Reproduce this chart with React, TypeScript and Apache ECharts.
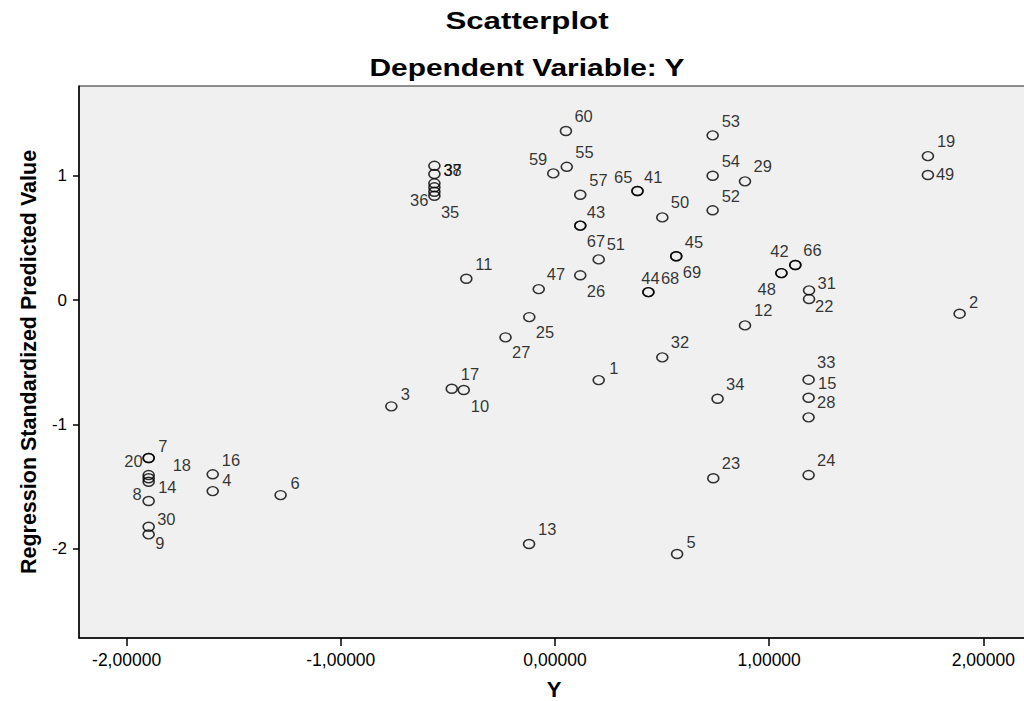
import React, { useEffect, useRef } from 'react';
import * as echarts from 'echarts';

// Case numbers of the points
const caseIds = [
  1, 2, 3, 4, 5, 6, 7, 8, 9, 10,
  11, 12, 13, 14, 15, 16, 17, 18, 19, 20,
  21, 22, 23, 24, 25, 26, 27, 28, 29, 30,
  31, 32, 33, 34, 35, 36, 37, 38, 39, 40,
  41, 42, 43, 44, 45, 46, 47, 48, 49, 50,
  51, 52, 53, 54, 55, 57, 59, 60, 65, 66,
  67, 68, 69,
];

// X axis: Y (observed)
const observedY = [
  0.204, 1.889, -0.764, -1.598, 0.570, -1.281, -1.897, -1.897, -1.897, -0.426,
  -0.414, 0.887, -0.121, -1.897, 1.184, -1.598, -0.482, -1.897, 1.741, -1.897,
  -1.897, 1.186, 0.739, 1.184, -0.120, 0.118, -0.231, 1.184, 0.887, -1.897,
  1.186, 0.501, 1.184, 0.759, -0.563, -0.563, -0.563, -0.563, -0.563, -0.563,
  0.385, 1.057, 0.118, 0.436, 0.566, 1.122, -0.076, 1.057, 1.741, 0.501,
  0.204, 0.736, 0.736, 0.736, 0.055, 0.118, -0.008, 0.051, 0.385, 1.122,
  0.118, 0.436, 0.566,
];

// Y axis: Regression Standardized Predicted Value
const predictedZ = [
  -0.644, -0.110, -0.855, -1.537, -2.043, -1.569, -1.271, -1.617, -1.885, -0.724,
  0.171, -0.204, -1.963, -1.462, -0.786, -1.402, -0.714, -1.408, 1.158, -1.271,
  -1.434, 0.008, -1.434, -1.408, -0.137, 0.199, -0.300, -0.944, 0.955, -1.824,
  0.078, -0.461, -0.641, -0.794, 0.839, 0.871, 1.080, 1.014, 0.939, 0.907,
  0.877, 0.217, 0.599, 0.064, 0.352, 0.282, 0.088, 0.217, 1.006, 0.665,
  0.327, 0.722, 1.325, 1.000, 1.072, 0.847, 1.019, 1.360, 0.877, 0.282,
  0.599, 0.064, 0.352,
];

// Cases whose labels are hidden (fully overlapped)
const unlabeledCases = [21, 39, 40, 46];

const xTickValues = [-2, -1, 0, 1, 2];
const yTickValues = [-2, -1, 0, 1];

// Label placement relative to the marker centre: [dx, dy, align]
const labelPlacement: Record<number, [number, number, string]> = {
  1: [10.5, -12, 'left'], 2: [9.5, -12, 'left'], 3: [9.5, -12, 'left'], 4: [9.5, -11, 'left'],
  5: [9.5, -12, 'left'], 6: [10, -12, 'left'], 7: [9.5, -12, 'left'], 8: [-7, -7, 'right'],
  9: [6.5, 8.5, 'left'], 10: [7, 16, 'left'], 11: [9, -15, 'left'], 12: [9, -15, 'left'],
  13: [9, -15, 'left'], 14: [9.5, 5, 'left'], 15: [9.5, -15, 'left'], 16: [9, -14.5, 'left'],
  17: [9, -15, 'left'], 18: [24, -10, 'left'], 19: [9, -15, 'left'], 20: [-6, 3, 'right'],
  22: [6, 7, 'left'], 23: [8.5, -15, 'left'], 24: [8.5, -15, 'left'], 25: [6.5, 15, 'left'],
  26: [6.5, 15.5, 'left'], 27: [6.5, 15, 'left'], 28: [8.5, -15.5, 'left'], 29: [8.5, -15, 'left'],
  30: [8.5, -7.5, 'left'], 31: [8.5, -7, 'left'], 32: [8.5, -15, 'left'], 33: [8.5, -18, 'left'],
  34: [8.5, -15, 'left'], 35: [6.5, 16, 'left'], 36: [-6, 8, 'right'], 37: [9, 4, 'left'],
  38: [9, -4, 'left'], 41: [6.5, -14, 'left'], 42: [-2, -22, 'center'], 43: [6.5, -14, 'left'],
  44: [2, -14, 'center'], 45: [8.5, -14.5, 'left'], 47: [8, -15.5, 'left'], 48: [-5.5, 15.5, 'right'],
  49: [8, -1, 'left'], 50: [8.5, -15, 'left'], 51: [8, -15, 'left'], 52: [9, -14.5, 'left'],
  53: [9, -14.5, 'left'], 54: [9, -14.5, 'left'], 55: [8.5, -15, 'left'], 57: [9, -15, 'left'],
  59: [-6, -14, 'right'], 60: [8.5, -15, 'left'], 65: [-5, -14, 'right'], 66: [8, -15, 'left'],
  67: [6.5, 15, 'left'], 68: [12.5, -14, 'left'], 69: [6.5, 15.5, 'left'],
};

const FONT = '"Liberation Sans", Arial, Helvetica, sans-serif';
const ELLIPSE = 'path://M0,4.5A5,4.5 0 1 1 10,4.5A5,4.5 0 1 1 0,4.5Z';

export default function App() {
  const ref = useRef<HTMLDivElement>(null);

  useEffect(() => {
    if (!ref.current) return;
    const chart = echarts.init(ref.current, null, { renderer: 'svg' });

    const data = caseIds.map((id, i) => {
      const p = labelPlacement[id];
      const show = !!p && unlabeledCases.indexOf(id) < 0;
      return {
        value: [observedY[i], predictedZ[i], id],
        label: show
          ? {
              show: true,
              formatter: String(id),
              position: 'inside',
              align: p[2],
              verticalAlign: 'middle',
              offset: [p[0], p[1]],
            }
          : { show: false },
      };
    });

    chart.setOption({
      animation: false,
      backgroundColor: '#ffffff',
      graphic: [
        {
          type: 'text',
          x: 527,
          y: 21,
          scaleX: 1.33,
          style: {
            text: 'Scatterplot',
            fill: '#000',
            fontFamily: FONT,
            fontWeight: 'bold',
            fontSize: 23.5,
            align: 'center',
            verticalAlign: 'middle',
          },
        },
        {
          type: 'text',
          x: 527,
          y: 68,
          scaleX: 1.3,
          style: {
            text: 'Dependent Variable: Y',
            fill: '#000',
            fontFamily: FONT,
            fontWeight: 'bold',
            fontSize: 23,
            align: 'center',
            verticalAlign: 'middle',
          },
        },
      ],
      grid: {
        left: 79,
        top: 86,
        width: 950,
        height: 552,
        show: true,
        backgroundColor: '#f0f0f0',
        borderColor: '#222',
        borderWidth: 1,
        containLabel: false,
        outerBoundsMode: 'none',
      },
      xAxis: {
        type: 'value',
        min: -2.2222,
        max: 2.2129,
        name: 'Y',
        nameLocation: 'middle',
        nameGap: 40,
        nameTextStyle: { fontFamily: FONT, fontWeight: 'bold', fontSize: 22, color: '#000' },
        axisLine: { show: true, onZero: false, lineStyle: { color: '#000', width: 1.5 } },
        axisTick: { show: true, length: 8, customValues: xTickValues, lineStyle: { color: '#000', width: 1.5 } },
        axisLabel: {
          customValues: xTickValues,
          margin: 13,
          fontFamily: FONT,
          fontSize: 17.5,
          color: '#000',
          formatter: (v: number) => v.toFixed(5).replace('.', ','),
        },
        splitLine: { show: false },
      },
      yAxis: {
        type: 'value',
        min: -2.719,
        max: 1.722,
        name: 'Regression Standardized Predicted Value',
        nameLocation: 'middle',
        nameGap: 39,
        nameTextStyle: { fontFamily: FONT, fontWeight: 'bold', fontSize: 21.5, color: '#000' },
        axisLine: { show: true, onZero: false, lineStyle: { color: '#000', width: 1.5 } },
        axisTick: { show: true, length: 6, customValues: yTickValues, lineStyle: { color: '#000', width: 1.5 } },
        axisLabel: {
          customValues: yTickValues,
          margin: 12,
          fontFamily: FONT,
          fontSize: 17,
          color: '#000',
          formatter: (v: number) => String(Math.round(v)),
        },
        splitLine: { show: false },
      },
      series: [
        {
          type: 'scatter',
          symbol: ELLIPSE,
          symbolSize: [11, 9],
          itemStyle: { color: 'rgba(0,0,0,0)', borderColor: '#000', borderWidth: 1.5 },
          label: { fontFamily: FONT, fontSize: 16.5, color: '#000' },
          emphasis: { disabled: true },
          data,
        },
      ],
    });

    return () => chart.dispose();
  }, []);

  return (
    <div
      ref={ref}
      style={{ position: 'absolute', left: 0, top: 0, width: 1024, height: 701, background: '#fff' }}
    />
  );
}
